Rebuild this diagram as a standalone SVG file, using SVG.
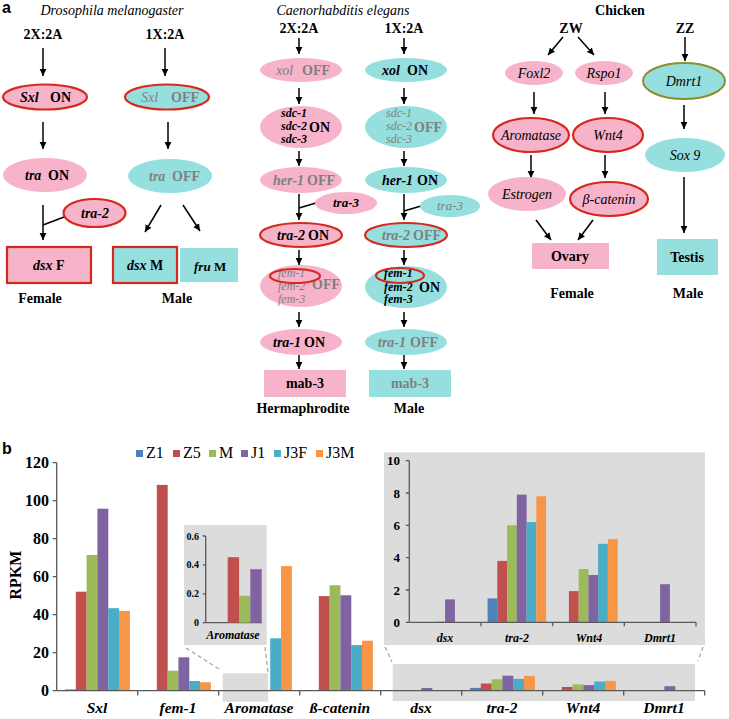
<svg xmlns="http://www.w3.org/2000/svg" width="729" height="719" viewBox="0 0 729 719" font-family="'Liberation Serif', 'DejaVu Serif', serif">
<style>
text{font-family:"Liberation Serif","DejaVu Serif",serif;fill:#000}
.t{font-size:14px;font-weight:bold}
.ti{font-size:14px;font-style:italic}
.bi{font-style:italic;font-weight:bold}
.g{fill:#7f7f7f}
.c{text-anchor:middle}
.e{text-anchor:end}
.pk{fill:#f7b3ca}
.cy{fill:#96dfdf}
.rs{stroke:#d42a1e;stroke-width:2.2}
.ln{stroke:#000;stroke-width:1.5;fill:none}
.ar{stroke:#000;stroke-width:1.5;fill:none;marker-end:url(#ah)}
.ax{stroke:#595959;stroke-width:1.3;fill:none}
.dash{stroke:#a8a8a8;stroke-width:1.3;stroke-dasharray:4 3;fill:none}
.gb{fill:#dcdcdc}
.z1{fill:#4f81bd}.z5{fill:#c0504d}.m{fill:#9bbb59}.j1{fill:#8064a2}.j3f{fill:#4bacc6}.j3m{fill:#f79646}
.tk{font-size:16px;font-weight:bold}
.lg{font-size:16px}
.sl{font-size:10px;font-weight:bold}
.ml{font-size:13px;font-weight:bold}
.sans{font-family:"Liberation Sans","DejaVu Sans",sans-serif;font-size:16px;font-weight:bold}
</style>
<defs>
<marker id="ah" markerWidth="8" markerHeight="8" refX="7" refY="4" orient="auto" markerUnits="userSpaceOnUse"><path d="M0,0.6 L7,4 L0,7.4 z" fill="#000"/></marker>
</defs>

<text class="sans" x="2" y="13">a</text>
<text class="sans" x="2" y="454">b</text>

<!-- Panel a titles -->
<text class="ti c" x="112" y="15">Drosophila melanogaster</text>
<text class="ti c" x="343" y="15">Caenorhabditis elegans</text>
<text class="t c" x="620" y="15">Chicken</text>
<text class="t c" x="43" y="39">2X:2A</text>
<text class="t c" x="165" y="39">1X:2A</text>
<text class="t c" x="299" y="33">2X:2A</text>
<text class="t c" x="404" y="33">1X:2A</text>
<text class="t c" x="571" y="33">ZW</text>
<text class="t c" x="685" y="33">ZZ</text>

<!-- Connectors -->
<g id="connectors">
<line class="ar" x1="43" y1="48" x2="43" y2="76"/>
<line class="ar" x1="165" y1="48" x2="165" y2="76"/>
<line class="ar" x1="43" y1="122" x2="43" y2="149"/>
<line class="ar" x1="168" y1="122" x2="168" y2="149"/>
<line class="ar" x1="43" y1="205" x2="43" y2="240"/>
<line class="ln" x1="43" y1="225" x2="64" y2="217"/>
<line class="ar" x1="161" y1="205" x2="145" y2="232"/>
<line class="ar" x1="183" y1="205" x2="200" y2="231"/>

<line class="ar" x1="299" y1="38" x2="299" y2="54"/>
<line class="ar" x1="404" y1="38" x2="404" y2="54"/>
<line class="ar" x1="299" y1="88" x2="299" y2="104"/>
<line class="ar" x1="404" y1="88" x2="404" y2="104"/>
<line class="ar" x1="299" y1="151" x2="299" y2="166"/>
<line class="ar" x1="404" y1="151" x2="404" y2="166"/>
<line class="ar" x1="299" y1="194" x2="299" y2="220"/>
<line class="ln" x1="299" y1="208" x2="316" y2="203"/>
<line class="ar" x1="404" y1="194" x2="404" y2="220"/>
<line class="ln" x1="404" y1="211" x2="421" y2="206"/>
<line class="ar" x1="299" y1="250" x2="299" y2="265"/>
<line class="ar" x1="404" y1="250" x2="404" y2="265"/>
<line class="ar" x1="299" y1="312" x2="299" y2="327"/>
<line class="ar" x1="404" y1="312" x2="404" y2="327"/>
<line class="ar" x1="299" y1="355" x2="299" y2="369"/>
<line class="ar" x1="404" y1="355" x2="404" y2="369"/>

<line class="ar" x1="563" y1="37" x2="548" y2="55"/>
<line class="ar" x1="578" y1="37" x2="594" y2="55"/>
<line class="ar" x1="685" y1="37" x2="685" y2="61"/>
<line class="ar" x1="534" y1="92" x2="534" y2="114"/>
<line class="ar" x1="605" y1="92" x2="605" y2="114"/>
<line class="ar" x1="684" y1="105" x2="684" y2="129"/>
<line class="ar" x1="531" y1="155" x2="531" y2="178"/>
<line class="ar" x1="605" y1="155" x2="605" y2="178"/>
<line class="ar" x1="684" y1="177" x2="684" y2="233"/>
<line class="ar" x1="536" y1="220" x2="551" y2="240"/>
<line class="ar" x1="593" y1="220" x2="578" y2="240"/>
</g>

<!-- Drosophila nodes -->
<g id="dm-sxl-on"><ellipse class="pk rs" cx="45" cy="97" rx="42" ry="12.5"/><text class="bi" style="font-size:14px" x="20" y="102">Sxl</text><text class="t" x="50" y="102">ON</text></g>
<g id="dm-sxl-off"><ellipse class="cy rs" cx="167" cy="97" rx="42" ry="12.5"/><text class="ti g" x="141" y="102">Sxl</text><text class="t g" x="171" y="102">OFF</text></g>
<g id="dm-tra-on"><ellipse class="pk" cx="45" cy="175" rx="42" ry="17"/><text class="bi" style="font-size:14px" x="25" y="180">tra</text><text class="t" x="48" y="180">ON</text></g>
<g id="dm-tra-off"><ellipse class="cy" cx="170" cy="176" rx="42" ry="17"/><text class="bi g" style="font-size:14px" x="149" y="181">tra</text><text class="t g" x="172" y="181">OFF</text></g>
<g id="dm-tra2"><ellipse class="pk rs" cx="94.5" cy="213" rx="31" ry="14"/><text class="bi c" style="font-size:14px" x="95" y="218">tra-2</text></g>
<g id="dm-dsxf"><rect class="pk rs" x="7" y="247" width="84" height="36"/><text class="t" x="33" y="270"><tspan class="bi">dsx</tspan> F</text></g>
<g id="dm-dsxm"><rect class="cy rs" x="113" y="247" width="64" height="36"/><text class="t" x="127" y="270"><tspan class="bi">dsx</tspan> M</text></g>
<g id="dm-frum"><rect class="cy" x="180" y="248" width="58" height="34"/><text class="ml" x="194" y="271"><tspan class="bi">fru</tspan> M</text></g>
<text class="t c" x="40" y="303">Female</text>
<text class="t c" x="177" y="303">Male</text>

<!-- C. elegans nodes -->
<g id="ce-xol-off"><ellipse class="pk" cx="301" cy="70" rx="41" ry="12"/><text class="ti g" x="276" y="75">xol</text><text class="t g" x="302" y="75">OFF</text></g>
<g id="ce-xol-on"><ellipse class="cy" cx="406" cy="70" rx="41" ry="12"/><text class="bi" style="font-size:14px" x="382" y="75">xol</text><text class="t" x="407" y="75">ON</text></g>
<g id="ce-sdc-on"><ellipse class="pk" cx="301" cy="127" rx="41" ry="21"/>
<text class="bi" style="font-size:12px" x="281" y="117">sdc-1</text><text class="bi" style="font-size:12px" x="281" y="130">sdc-2</text><text class="bi" style="font-size:12px" x="281" y="143">sdc-3</text><text class="t" x="309" y="132">ON</text></g>
<g id="ce-sdc-off"><ellipse class="cy" cx="406" cy="127" rx="41" ry="21"/>
<text class="g" style="font-size:12px;font-style:italic" x="386" y="117">sdc-1</text><text class="g" style="font-size:12px;font-style:italic" x="386" y="130">sdc-2</text><text class="g" style="font-size:12px;font-style:italic" x="386" y="143">sdc-3</text><text class="t g" x="414" y="132">OFF</text></g>
<g id="ce-her1-off"><ellipse class="pk" cx="301" cy="180" rx="41" ry="13"/><text class="bi g" style="font-size:14px" x="273" y="185">her-1</text><text class="t g" x="307" y="185">OFF</text></g>
<g id="ce-her1-on"><ellipse class="cy" cx="406" cy="180" rx="41" ry="13"/><text class="bi" style="font-size:14px" x="382" y="185">her-1</text><text class="t" x="417" y="185">ON</text></g>
<g id="ce-tra3-h"><ellipse class="pk" cx="346" cy="203" rx="31" ry="11"/><text class="bi c" style="font-size:13px" x="346" y="207">tra-3</text></g>
<g id="ce-tra3-m"><ellipse class="cy" cx="450" cy="206" rx="30" ry="11"/><text class="g c" style="font-size:13px;font-style:italic" x="450" y="210">tra-3</text></g>
<g id="ce-tra2-on"><ellipse class="pk rs" cx="301" cy="235" rx="41" ry="12"/><text class="bi" style="font-size:14px" x="277" y="240">tra-2</text><text class="t" x="308" y="240">ON</text></g>
<g id="ce-tra2-off"><ellipse class="cy rs" cx="406" cy="235" rx="41" ry="12"/><text class="bi g" style="font-size:14px" x="382" y="240">tra-2</text><text class="t g" x="413" y="240">OFF</text></g>
<g id="ce-fem-off"><ellipse class="pk" cx="301" cy="286" rx="41" ry="21"/>
<text class="g" style="font-size:12px;font-style:italic" x="278" y="277">fem-1</text><text class="g" style="font-size:12px;font-style:italic" x="278" y="290">fem-2</text><text class="g" style="font-size:12px;font-style:italic" x="278" y="303">fem-3</text><text class="t g" x="312" y="289">OFF</text>
<ellipse cx="295" cy="276" rx="25" ry="7" fill="none" class="rs"/></g>
<g id="ce-fem-on"><ellipse class="cy" cx="406" cy="287" rx="41" ry="21"/>
<text class="bi" style="font-size:12px" x="384" y="277">fem-1</text><text class="bi" style="font-size:12px" x="384" y="291">fem-2</text><text class="bi" style="font-size:12px" x="384" y="303">fem-3</text><text class="t" x="419" y="292">ON</text>
<ellipse cx="400" cy="275.5" rx="24" ry="7.5" fill="none" class="rs"/></g>
<g id="ce-tra1-on"><ellipse class="pk" cx="301" cy="342" rx="41" ry="13"/><text class="bi" style="font-size:14px" x="273" y="347">tra-1</text><text class="t" x="304" y="347">ON</text></g>
<g id="ce-tra1-off"><ellipse class="cy" cx="406" cy="342" rx="41" ry="13"/><text class="bi g" style="font-size:14px" x="378" y="347">tra-1</text><text class="t g" x="410" y="347">OFF</text></g>
<g id="ce-mab3-h"><rect class="pk" x="264" y="370" width="82" height="27"/><text class="t c" x="305" y="388">mab-3</text></g>
<g id="ce-mab3-m"><rect class="cy" x="369" y="370" width="82" height="27"/><text class="t c g" x="410" y="388">mab-3</text></g>
<text class="t c" x="303" y="413">Hermaphrodite</text>
<text class="t c" x="409" y="413">Male</text>

<!-- Chicken nodes -->
<g id="ch-foxl2"><ellipse class="pk" cx="534" cy="73" rx="29" ry="12"/><text class="ti c" x="534" y="78">Foxl2</text></g>
<g id="ch-rspo1"><ellipse class="pk" cx="604" cy="73" rx="29" ry="12"/><text class="ti c" x="604" y="78">Rspo1</text></g>
<g id="ch-dmrt1"><ellipse class="cy" cx="684" cy="81" rx="41" ry="18" stroke="#8f8f2a" stroke-width="2"/><text class="ti c" x="684" y="86">Dmrt1</text></g>
<g id="ch-aromatase"><ellipse class="pk rs" cx="531" cy="135" rx="38" ry="17"/><text class="ti c" x="531" y="140">Aromatase</text></g>
<g id="ch-wnt4"><ellipse class="pk rs" cx="608" cy="135" rx="35" ry="17"/><text class="ti c" x="608" y="140">Wnt4</text></g>
<g id="ch-sox9"><ellipse class="cy" cx="685" cy="155" rx="40" ry="17"/><text class="ti c" x="685" y="160">Sox 9</text></g>
<g id="ch-estrogen"><ellipse class="pk" cx="527" cy="194" rx="39" ry="17"/><text class="ti c" x="527" y="199">Estrogen</text></g>
<g id="ch-bcatenin"><ellipse class="pk rs" cx="609" cy="199" rx="39" ry="17"/><text class="ti c" x="609" y="204">β-catenin</text></g>
<g id="ch-ovary"><rect class="pk" x="532" y="243" width="77" height="26"/><text class="t c" x="570" y="261">Ovary</text></g>
<g id="ch-testis"><rect class="cy" x="657" y="239" width="61" height="36"/><text class="t c" x="687" y="262">Testis</text></g>
<text class="t c" x="572" y="298">Female</text>
<text class="t c" x="688" y="298">Male</text>

<!-- Panel b chart -->
<g id="chart">
<g id="legend">
<rect class="z1" x="136" y="450" width="7" height="7"/><text class="lg" x="146" y="458">Z1</text>
<rect class="z5" x="173" y="450" width="7" height="7"/><text class="lg" x="183" y="458">Z5</text>
<rect class="m" x="209" y="450" width="7" height="7"/><text class="lg" x="219" y="458">M</text>
<rect class="j1" x="241" y="450" width="7" height="7"/><text class="lg" x="251" y="458">J1</text>
<rect class="j3f" x="274" y="450" width="7" height="7"/><text class="lg" x="284" y="458">J3F</text>
<rect class="j3m" x="316" y="450" width="7" height="7"/><text class="lg" x="326" y="458">J3M</text>
</g>
<text class="tk c" transform="translate(21,575) rotate(-90)">RPKM</text>

<!-- grey highlight boxes -->
<rect class="gb" x="222.7" y="673.3" width="45.5" height="28.4"/>
<rect class="gb" x="392.7" y="664" width="302.3" height="37"/>

<!-- main y axis -->
<line class="ax" x1="56.7" y1="462.7" x2="56.7" y2="690.7"/>
<path class="ax" d="M52.7,462.7H56.7M52.7,500.7H56.7M52.7,538.7H56.7M52.7,576.7H56.7M52.7,614.7H56.7M52.7,652.7H56.7M52.7,690.7H56.7"/>
<text class="tk e" x="49" y="468">120</text>
<text class="tk e" x="49" y="506">100</text>
<text class="tk e" x="49" y="544">80</text>
<text class="tk e" x="49" y="582">60</text>
<text class="tk e" x="49" y="620">40</text>
<text class="tk e" x="49" y="658">20</text>
<text class="tk e" x="49" y="696">0</text>

<!-- main bars -->
<g id="bars-main">
<rect class="z1" x="65.0" y="689.4" width="10.9" height="1.3"/>
<rect class="z5" x="75.8" y="591.7" width="10.9" height="99"/>
<rect class="m" x="86.6" y="555.0" width="10.9" height="135.7"/>
<rect class="j1" x="97.4" y="508.7" width="10.9" height="182"/>
<rect class="j3f" x="108.2" y="608.2" width="10.9" height="82.5"/>
<rect class="j3m" x="119.0" y="610.9" width="10.9" height="79.8"/>

<rect class="z5" x="156.8" y="484.9" width="10.9" height="205.8"/>
<rect class="m" x="167.6" y="670.7" width="10.9" height="20"/>
<rect class="j1" x="178.4" y="657.3" width="10.9" height="33.4"/>
<rect class="j3f" x="189.2" y="681.0" width="10.9" height="9.7"/>
<rect class="j3m" x="200.0" y="682.3" width="10.9" height="8.4"/>

<rect class="j3f" x="270.2" y="638.3" width="10.9" height="52.4"/>
<rect class="j3m" x="281.0" y="566.1" width="10.9" height="124.6"/>

<rect class="z5" x="318.8" y="596.1" width="10.9" height="94.6"/>
<rect class="m" x="329.6" y="585.2" width="10.9" height="105.5"/>
<rect class="j1" x="340.4" y="595.3" width="10.9" height="95.4"/>
<rect class="j3f" x="351.2" y="645.1" width="10.9" height="45.6"/>
<rect class="j3m" x="362.0" y="640.7" width="10.9" height="50"/>

<rect class="j1" x="421.4" y="688.0" width="10.9" height="2.7"/>

<rect class="z1" x="470.0" y="687.9" width="10.9" height="2.8"/>
<rect class="z5" x="480.8" y="683.5" width="10.9" height="7.2"/>
<rect class="m" x="491.6" y="679.3" width="10.9" height="11.4"/>
<rect class="j1" x="502.4" y="675.7" width="10.9" height="15"/>
<rect class="j3f" x="513.2" y="678.9" width="10.9" height="11.8"/>
<rect class="j3m" x="524.0" y="675.9" width="10.9" height="14.8"/>

<rect class="z5" x="561.8" y="687.0" width="10.9" height="3.7"/>
<rect class="m" x="572.6" y="684.4" width="10.9" height="6.3"/>
<rect class="j1" x="583.4" y="685.1" width="10.9" height="5.6"/>
<rect class="j3f" x="594.2" y="681.5" width="10.9" height="9.2"/>
<rect class="j3m" x="605.0" y="680.9" width="10.9" height="9.8"/>

<rect class="j1" x="664.4" y="686.2" width="10.9" height="4.5"/>
</g>

<!-- main x axis -->
<line class="ax" x1="56.7" y1="690.7" x2="705" y2="690.7"/>
<path class="ax" d="M137.7,690.7V695.5M218.7,690.7V695.5M299.7,690.7V695.5M380.7,690.7V695.5M461.7,690.7V695.5M542.7,690.7V695.5M623.7,690.7V695.5M704.7,690.7V695.5"/>
<g style="font-size:15.5px;font-style:italic;font-weight:bold;text-anchor:middle">
<text x="97" y="713">Sxl</text>
<text x="178" y="713">fem-1</text>
<text x="259" y="713">Aromatase</text>
<text x="340" y="713">ß-catenin</text>
<text x="421" y="713">dsx</text>
<text x="502" y="713">tra-2</text>
<text x="583" y="713">Wnt4</text>
<text x="664" y="713">Dmrt1</text>
</g>

<!-- dashed zoom lines -->
<line class="dash" x1="186" y1="648" x2="219" y2="669"/>
<line class="dash" x1="265" y1="647" x2="268" y2="672"/>
<line class="dash" x1="385" y1="647" x2="392" y2="662"/>
<line class="dash" x1="703" y1="647" x2="698" y2="661"/>

<!-- small inset (Aromatase) -->
<g id="inset-aromatase">
<rect class="gb" x="184" y="525" width="82.7" height="120"/>
<line class="ax" x1="205.7" y1="536" x2="205.7" y2="622.7"/>
<path class="ax" d="M202.7,536H205.7M202.7,564.9H205.7M202.7,593.8H205.7M202.7,622.7H205.7"/>
<line class="ax" x1="205.7" y1="622.7" x2="262" y2="622.7"/>
<text class="sl e" x="199" y="539.5">0.6</text>
<text class="sl e" x="199" y="568.4">0.4</text>
<text class="sl e" x="199" y="597.3">0.2</text>
<text class="sl e" x="199" y="626.2">0</text>
<rect class="z5" x="227.7" y="557.2" width="11.4" height="65.5"/>
<rect class="m" x="239.0" y="595.8" width="11.4" height="26.9"/>
<rect class="j1" x="250.3" y="569.2" width="11.4" height="53.5"/>
<text class="bi c" style="font-size:12px" x="233" y="639">Aromatase</text>
</g>

<!-- big inset -->
<g id="inset-low">
<rect class="gb" x="384" y="452.3" width="321" height="192.7"/>
<line class="ax" x1="409.3" y1="460.7" x2="409.3" y2="622.3"/>
<path class="ax" d="M405.8,460.7H409.3M405.8,493H409.3M405.8,525.3H409.3M405.8,557.7H409.3M405.8,590H409.3M405.8,622.3H409.3"/>
<text class="ml e" x="400" y="465.2">10</text>
<text class="ml e" x="400" y="497.5">8</text>
<text class="ml e" x="400" y="529.8">6</text>
<text class="ml e" x="400" y="562.2">4</text>
<text class="ml e" x="400" y="594.5">2</text>
<text class="ml e" x="400" y="626.8">0</text>
<rect class="m" x="435.4" y="621.6" width="9.8" height="0.7"/>
<rect class="j1" x="445.1" y="599.4" width="9.8" height="22.9"/>
<rect class="z1" x="487.6" y="598.4" width="9.8" height="23.9"/>
<rect class="z5" x="497.3" y="560.9" width="9.8" height="61.4"/>
<rect class="m" x="507.1" y="525.3" width="9.8" height="97"/>
<rect class="j1" x="516.8" y="494.6" width="9.8" height="127.7"/>
<rect class="j3f" x="526.5" y="522.1" width="9.8" height="100.2"/>
<rect class="j3m" x="536.3" y="496.3" width="9.8" height="126"/>
<rect class="z5" x="568.9" y="591.1" width="9.8" height="31.2"/>
<rect class="m" x="578.7" y="569.0" width="9.8" height="53.3"/>
<rect class="j1" x="588.4" y="575.0" width="9.8" height="47.3"/>
<rect class="j3f" x="598.1" y="543.8" width="9.8" height="78.5"/>
<rect class="j3m" x="607.9" y="539.2" width="9.8" height="83.1"/>
<rect class="j1" x="660.1" y="584.2" width="9.8" height="38.1"/>
<line class="ax" x1="409.3" y1="622.3" x2="696" y2="622.3"/>
<path class="ax" d="M481,622.3V626.3M552.6,622.3V626.3M624.3,622.3V626.3M696,622.3V626.3"/>
<g style="font-size:12px;font-style:italic;font-weight:bold;text-anchor:middle">
<text x="445" y="641.7">dsx</text>
<text x="517" y="641.7">tra-2</text>
<text x="589" y="641.7">Wnt4</text>
<text x="660" y="641.7">Dmrt1</text>
</g>
</g>
</g>
</svg>
